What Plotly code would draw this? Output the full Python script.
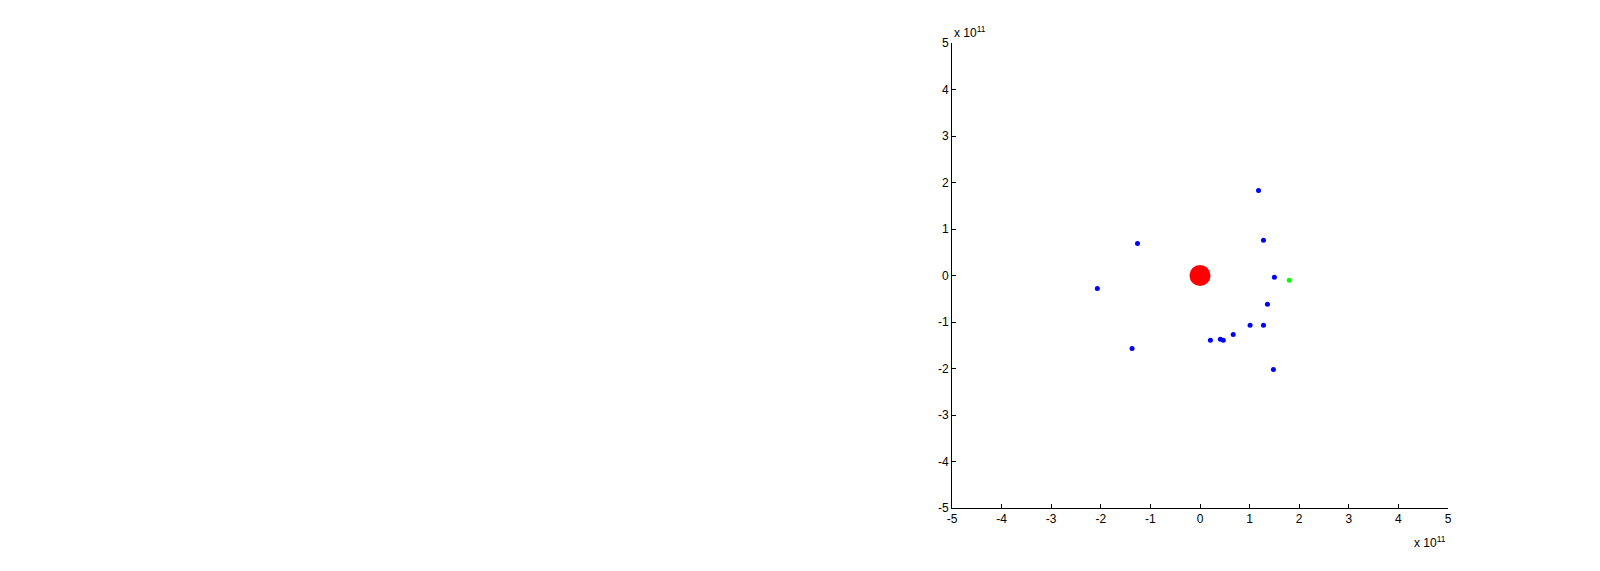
import plotly.graph_objects as go

SCALE = 1e11
# bodies (positions in metres)
sun_x = [0.0]
sun_y = [0.0]
planet_x = [1.18e11, 1.28e11, -1.26e11, -2.07e11, 1.50e11, 1.36e11, 1.01e11, 1.28e11, 0.67e11, 0.21e11, 0.41e11, 0.47e11, -1.37e11, 1.48e11]
planet_y = [1.83e11, 0.76e11, 0.69e11, -0.28e11, -0.04e11, -0.62e11, -1.07e11, -1.07e11, -1.27e11, -1.39e11, -1.37e11, -1.39e11, -1.57e11, -2.02e11]
probe_x = [1.80e11]
probe_y = [-0.10e11]
tick_vals = [-5, -4, -3, -2, -1, 0, 1, 2, 3, 4, 5]
tick_text = ["-5", "-4", "-3", "-2", "-1", "0", "1", "2", "3", "4", "5"]

fig = go.Figure()
fig.add_trace(go.Scatter(x=[v / SCALE for v in planet_x], y=[v / SCALE for v in planet_y], mode="markers",
                         marker=dict(color="#0000ff", size=5, symbol="circle"), showlegend=False))
fig.add_trace(go.Scatter(x=[v / SCALE for v in probe_x], y=[v / SCALE for v in probe_y], mode="markers",
                         marker=dict(color="#00ff00", size=5, symbol="circle"), showlegend=False))
fig.add_trace(go.Scatter(x=[v / SCALE for v in sun_x], y=[v / SCALE for v in sun_y], mode="markers",
                         marker=dict(color="#ff0000", size=21, symbol="circle"), showlegend=False))

axis_common = dict(range=[-5, 5], tickvals=tick_vals, ticktext=tick_text, showgrid=False, zeroline=False,
                   showline=True, linecolor="black", linewidth=1, ticks="inside", ticklen=4,
                   tickcolor="black", tickfont=dict(family="Liberation Sans, Arial", size=12, color="black"))
fig.update_xaxes(**axis_common)
fig.update_yaxes(**axis_common)

fig.update_layout(
    width=1584, height=555, autosize=False,
    margin=dict(l=944, r=144, t=35, b=55),
    plot_bgcolor="white", paper_bgcolor="white",
    annotations=[
        dict(text="x 10<sup>11</sup>", xref="paper", yref="paper", x=0, y=1, xanchor="left", yanchor="bottom",
             showarrow=False, font=dict(family="Liberation Sans, Arial", size=12, color="black"), xshift=0, yshift=1),
        dict(text="x 10<sup>11</sup>", xref="paper", yref="paper", x=1, y=0, xanchor="right", yanchor="top",
             showarrow=False, font=dict(family="Liberation Sans, Arial", size=12, color="black"), xshift=0, yshift=-24),
    ],
)

fig.write_html("out.html")
